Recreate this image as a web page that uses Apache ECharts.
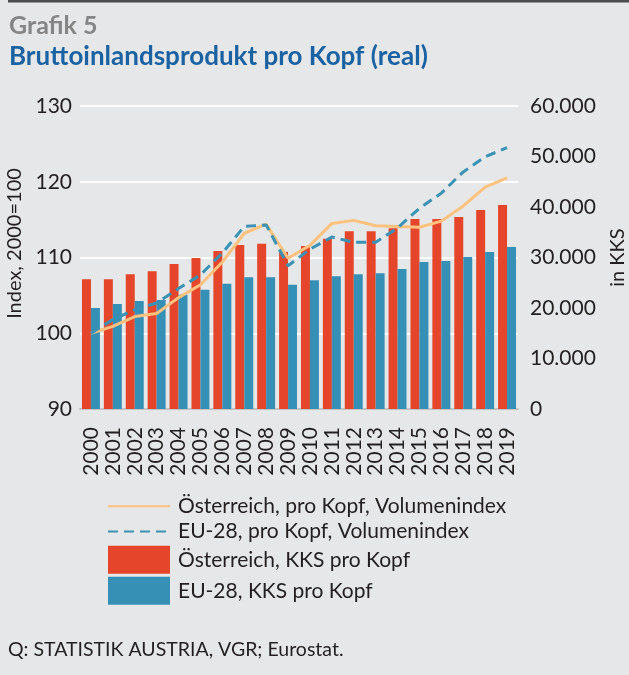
<!DOCTYPE html>
<html>
<head>
<meta charset="utf-8">
<script src="https://cdn.jsdelivr.net/npm/echarts@6/dist/echarts.min.js"></script>
<style>
  html, body { margin: 0; padding: 0; background: #e6e7e8; }
  #chart { width: 629px; height: 675px; }
</style>
</head>
<body>
<div id="chart"></div>
<script>
const years = ['2000','2001','2002','2003','2004','2005','2006','2007','2008','2009',
               '2010','2011','2012','2013','2014','2015','2016','2017','2018','2019'];

// KKS pro Kopf (rechte Achse)
const atKKS = [25700, 25700, 26700, 27300, 28700, 29900, 31300, 32500, 32700, 31100,
               32300, 33700, 35200, 35200, 35800, 37600, 37600, 38000, 39400, 40400];
const euKKS = [20000, 20800, 21400, 21600, 22600, 23600, 24800, 26100, 26100, 24600,
               25500, 26300, 26700, 26900, 27700, 29100, 29300, 30100, 31100, 32100];

// Volumenindex, 2000=100 (linke Achse)
const atIndex = [100.0, 100.9, 102.2, 102.6, 104.7, 106.4, 109.4, 113.2, 114.4, 109.9,
                 111.6, 114.5, 114.9, 114.2, 114.1, 114.0, 114.8, 116.8, 119.3, 120.5];
const euIndex = [100.0, 101.8, 103.1, 104.0, 105.9, 107.7, 110.6, 114.1, 114.3, 108.9,
                 111.1, 112.7, 112.0, 112.0, 113.9, 116.5, 118.5, 121.3, 123.3, 124.5];

const names = ['Österreich, pro Kopf, Volumenindex', 'EU-28, pro Kopf, Volumenindex',
               'Österreich, KKS pro Kopf', 'EU-28, KKS pro Kopf'];

const font = 'Lato';
const textCol = '#231f20';

var chart = echarts.init(document.getElementById('chart'));

var option = {
    backgroundColor: '#e6e7e8',
    animation: false,
    textStyle: { fontFamily: font },
    graphic: [
        { type: 'rect', left: 8, top: 0, shape: { width: 621, height: 2.5 }, style: { fill: '#4d4d4d' } },
        { type: 'text', left: 9, top: 13, style: { text: 'Grafik 5', fontFamily: font, fontWeight: 'bold', fontSize: 25, fill: '#858585' } },
        { type: 'text', left: 9, top: 44, style: { text: 'Bruttoinlandsprodukt pro Kopf (real)', fontFamily: font, fontWeight: 'bold', fontSize: 26, fill: '#1b62a3' } },
        { type: 'text', left: 8, top: 640, style: { text: 'Q: STATISTIK AUSTRIA, VGR; Eurostat.', fontFamily: font, fontSize: 19.5, fill: textCol } }
    ],
    legend: {
        orient: 'vertical',
        left: 102,
        top: 490,
        itemWidth: 62,
        itemHeight: 28,
        itemGap: 3,
        data: [
            { name: names[0], itemStyle: { opacity: 0 } },
            { name: names[1], itemStyle: { opacity: 0 } },
            { name: names[2], icon: 'rect' },
            { name: names[3], icon: 'rect' }
        ],
        textStyle: { fontFamily: font, fontSize: 21, color: textCol, padding: [0, 0, 0, 3] }
    },
    grid: { left: 80, right: 111, top: 106, bottom: 266, outerBoundsMode: 'none' },
    xAxis: {
        type: 'category',
        data: years,
        axisTick: { show: false },
        axisLine: { lineStyle: { color: '#c4c4c4', width: 2 } },
        axisLabel: { rotate: 90, fontSize: 21, color: textCol, margin: 18, interval: 0 }
    },
    yAxis: [
        {
            type: 'value',
            min: 90, max: 130, interval: 10,
            name: 'Index, 2000=100',
            nameLocation: 'middle',
            nameRotate: 90,
            nameGap: 52,
            nameTextStyle: { fontSize: 20, color: textCol, padding: [0, 0, 0, 28] },
            axisLine: { show: false },
            axisTick: { show: false },
            axisLabel: { fontSize: 21, color: textCol, margin: 8 },
            splitLine: { lineStyle: { color: '#ffffff', width: 2 } }
        },
        {
            type: 'value',
            min: 0, max: 60000, interval: 10000,
            name: 'in KKS',
            nameLocation: 'middle',
            nameRotate: 90,
            nameGap: 90,
            nameTextStyle: { fontSize: 20, color: textCol },
            axisLine: { show: false },
            axisTick: { show: false },
            axisLabel: {
                fontSize: 21, color: textCol, margin: 12,
                formatter: function (v) { return v.toLocaleString('de-DE'); }
            },
            splitLine: { show: false }
        }
    ],
    series: [
        {
            name: names[2], type: 'bar', yAxisIndex: 1,
            data: atKKS, itemStyle: { color: '#e5452a' },
            barGap: '0%', barCategoryGap: '18%'
        },
        {
            name: names[3], type: 'bar', yAxisIndex: 1,
            data: euKKS, itemStyle: { color: '#3690b5' }
        },
        {
            name: names[0], type: 'line', yAxisIndex: 0,
            data: atIndex, symbol: 'none',
            lineStyle: { color: '#fec27e', width: 3 }, itemStyle: { color: '#fec27e' }
        },
        {
            name: names[1], type: 'line', yAxisIndex: 0,
            data: euIndex, symbol: 'none',
            lineStyle: { color: '#3a92b5', width: 3, type: [10, 6] }, itemStyle: { color: '#3a92b5' }
        }
    ]
};

chart.setOption(option);
</script>
</body>
</html>
